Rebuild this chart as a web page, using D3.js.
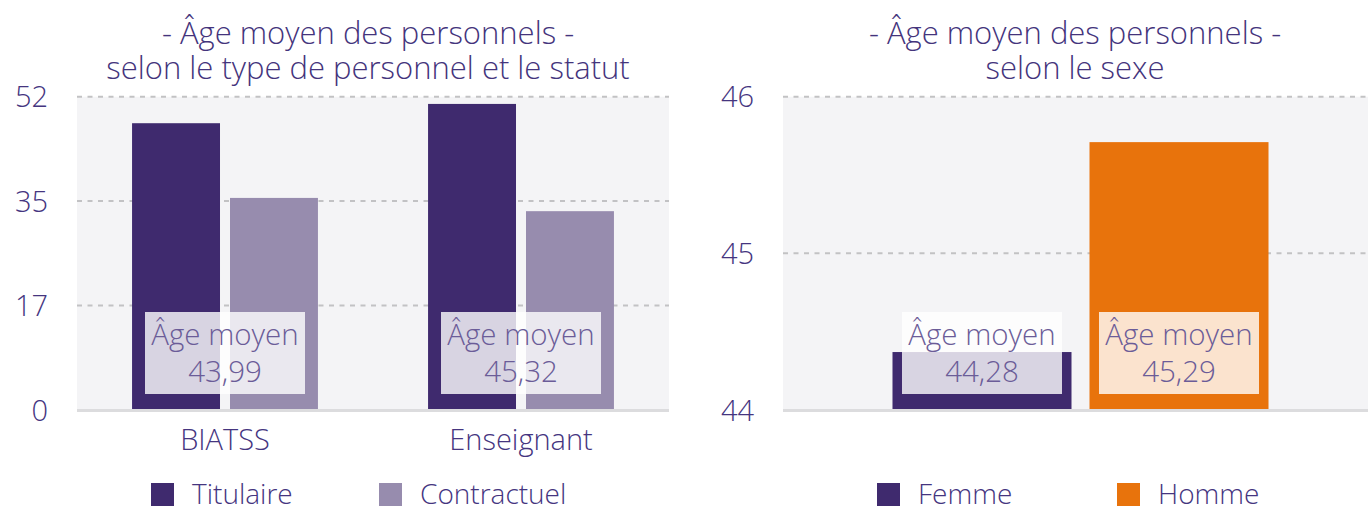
<!DOCTYPE html>
<html><head><meta charset="utf-8">
<script src="https://cdn.jsdelivr.net/npm/d3@7"></script>
<style>
body{margin:0;background:#fff}
svg{display:block}
text{font-family:"Open Sans",sans-serif;font-weight:300}
</style>
</head><body><svg id="c" width="1368" height="506"></svg>
<script>
// ---------- data ----------
const typeCategories = ["BIATSS", "Enseignant"];
const statutSeries = ["Titulaire", "Contractuel"];
const titulaireValues = [47.6, 50.8];
const contractuelValues = [35.2, 33.0];
const typeAvgLabels = ["43,99", "45,32"];
const leftTickValues = [0, 17.33, 34.67, 52];
const leftTickLabels = ["0", "17", "35", "52"];
const leftTitle = ["- Âge moyen des personnels -", "selon le type de personnel et le statut"];

const sexCategories = ["Femme", "Homme"];
const sexValues = [44.37, 45.71];
const sexAvgLabels = ["44,28", "45,29"];
const rightTickValues = [44, 45, 46];
const rightTickLabels = ["44", "45", "46"];
const rightTitle = ["- Âge moyen des personnels -", "selon le sexe"];

// ---------- styles ----------
const C_DARK = "#3f2a6e", C_LIGHT = "#978cae", C_ORANGE = "#e8730c";
const TXT_AXIS = "#45357f", TXT_LABEL = "#6b5c98", TXT_TITLE = "#44347c";
const BG = "#f4f4f6";

const svg = d3.select("#c");
const yTop = 96.7, yBase = 410;

function frame(g, bgX0, bgX1, y, ticks, labels, titleLines, titleX) {
  g.append("rect").attr("x", bgX0).attr("y", yTop).attr("width", bgX1 - bgX0)
    .attr("height", yBase - yTop).attr("fill", BG);
  g.selectAll(".grid").data(ticks.slice(1)).join("line")
    .attr("x1", bgX0).attr("x2", bgX1)
    .attr("y1", d => y(d)).attr("y2", d => y(d))
    .attr("stroke", "#c2c2c4").attr("stroke-width", 2).attr("stroke-dasharray", "5,5.5");
  const ax = g.append("g").attr("transform", `translate(${bgX0},0)`)
    .call(d3.axisLeft(y).tickValues(ticks).tickSize(0).tickPadding(29)
      .tickFormat((d, i) => labels[i]));
  ax.select(".domain").remove();
  ax.selectAll("text").attr("font-size", 29).attr("fill", TXT_AXIS)
    .attr("font-family", '"Open Sans",sans-serif').attr("dy", "0.35em");
  g.selectAll(".title").data(titleLines).join("text")
    .attr("x", titleX).attr("y", (d, i) => 44 + i * 35)
    .attr("text-anchor", "middle").attr("font-size", 31).attr("fill", TXT_TITLE)
    .text(d => d);
}
function baseline(g, x0, x1) {
  g.append("line").attr("x1", x0).attr("x2", x1).attr("y1", yBase + 0.5).attr("y2", yBase + 0.5)
    .attr("stroke", "#dcdcde").attr("stroke-width", 3);
}
function avgBox(g, cx, label) {
  g.append("rect").attr("x", cx - 80).attr("y", yBase - 98).attr("width", 160).attr("height", 82)
    .attr("fill", "#fff").attr("fill-opacity", 0.8);
  g.append("text").attr("x", cx).attr("y", 345).attr("text-anchor", "middle")
    .attr("font-size", 29.5).attr("fill", TXT_LABEL).text("Âge moyen");
  g.append("text").attr("x", cx).attr("y", 382).attr("text-anchor", "middle")
    .attr("font-size", 29.5).attr("fill", TXT_LABEL).text(label);
}
function legend(g, items) {
  items.forEach(it => {
    g.append("rect").attr("x", it.x).attr("y", 483).attr("width", 23).attr("height", 23).attr("fill", it.color);
    g.append("text").attr("x", it.x + 41).attr("y", 504).attr("font-size", 28)
      .attr("fill", TXT_AXIS).text(it.name);
  });
}

// ---------- left chart ----------
{
  const g = svg.append("g");
  const y = d3.scaleLinear().domain([0, 52]).range([yBase, yTop]);
  frame(g, 77, 669, y, leftTickValues, leftTickLabels, leftTitle, 368);
  const x0 = d3.scaleBand().domain(typeCategories).range([77, 669]).paddingInner(0.372).paddingOuter(0.186);
  const x1 = d3.scaleBand().domain(statutSeries).range([0, x0.bandwidth()]).paddingInner(0.102);
  const color = d3.scaleOrdinal().domain(statutSeries).range([C_DARK, C_LIGHT]);
  const rows = typeCategories.map((c, i) => ({cat: c, vals: [
    {s: "Titulaire", v: titulaireValues[i]}, {s: "Contractuel", v: contractuelValues[i]}]}));
  const grp = g.selectAll(".grp").data(rows).join("g")
    .attr("transform", d => `translate(${x0(d.cat)},0)`);
  grp.selectAll("rect").data(d => d.vals).join("rect")
    .attr("x", d => x1(d.s)).attr("width", x1.bandwidth())
    .attr("y", d => y(d.v)).attr("height", d => y(0) - y(d.v))
    .attr("fill", d => color(d.s));
  baseline(g, 77, 669);
  typeCategories.forEach((c, i) => avgBox(g, x0(c) + x0.bandwidth() / 2, typeAvgLabels[i]));
  const xa = g.append("g").attr("transform", `translate(0,${yBase})`)
    .call(d3.axisBottom(x0).tickSize(0));
  xa.select(".domain").remove();
  xa.selectAll("text").attr("y", 40).attr("dy", 0).attr("font-size", 29)
    .attr("fill", TXT_AXIS).attr("font-family", '"Open Sans",sans-serif');
  legend(g, [{name: statutSeries[0], color: C_DARK, x: 151}, {name: statutSeries[1], color: C_LIGHT, x: 379}]);
}

// ---------- right chart ----------
{
  const g = svg.append("g");
  const y = d3.scaleLinear().domain([44, 46]).range([yBase, yTop]);
  frame(g, 783, 1368, y, rightTickValues, rightTickLabels, rightTitle, 1075);
  const x = d3.scaleBand().domain(sexCategories).range([793, 1368]).paddingInner(0.0914).paddingOuter(0.505);
  const color = d3.scaleOrdinal().domain(sexCategories).range([C_DARK, C_ORANGE]);
  g.selectAll(".bar").data(sexCategories).join("rect")
    .attr("x", d => x(d)).attr("width", x.bandwidth())
    .attr("y", (d, i) => y(sexValues[i])).attr("height", (d, i) => y(44) - y(sexValues[i]))
    .attr("fill", d => color(d));
  baseline(g, 783, 1368);
  sexCategories.forEach((c, i) => avgBox(g, x(c) + x.bandwidth() / 2, sexAvgLabels[i]));
  legend(g, [{name: sexCategories[0], color: C_DARK, x: 877}, {name: sexCategories[1], color: C_ORANGE, x: 1117}]);
}
</script>
</body></html>
